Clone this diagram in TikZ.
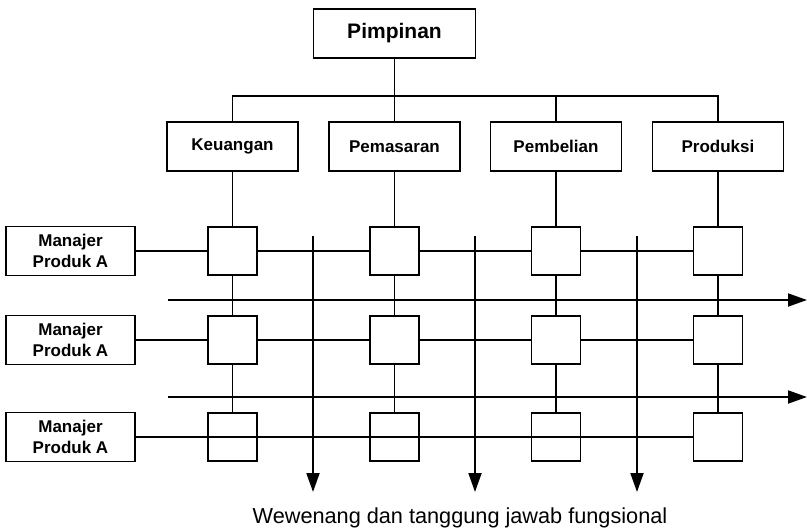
\documentclass[tikz,border=0pt]{standalone}
\usepackage{fontspec}
\setmainfont{Liberation Sans}
\usetikzlibrary{arrows.meta}
\begin{document}
\begin{tikzpicture}[x=1pt,y=-1pt,line width=1.9pt,
  box/.style={draw,fill=white,inner sep=0pt,align=center,minimum height=49pt,
    font=\bfseries\fontsize{17}{21}\selectfont},
  cell/.style={draw,fill=white,inner sep=0pt,minimum width=49pt,minimum height=48pt},
  arr/.style={-{Triangle[length=19pt,width=13pt]}}]
  \useasboundingbox (0,0) rectangle (807,528);
  \node[box,minimum width=162pt,font=\bfseries\fontsize{21}{25}\selectfont] (pim) at (394.5,33.5) {Pimpinan};
  \coordinate (bus) at (394.5,96);
  \foreach \n/\x/\t in {keu/232.5/Keuangan, pem/394.5/Pemasaran, pbl/556/Pembelian, pro/718/Produksi}
    \node[box,minimum width=131pt] (\n) at (\x,146.5) {\t};
  \draw (pim) -- (bus);
  \foreach \n in {keu,pem,pbl,pro}
    \draw (bus) -| (\n.north);
  % manajer produk dan sel matriks
  \foreach \r/\y in {1/251, 2/340, 3/437} {
    \node[box,minimum width=129pt] (m\r) at (70.5,\y) {Manajer\\Produk A};
    \foreach \c/\x in {1/232.5, 2/394.5, 3/556, 4/718}
      \node[cell] (sq\r-\c) at (\x,\y) {};
  }
  \foreach \c/\n in {1/keu, 2/pem, 3/pbl, 4/pro}
    \draw (\n) -- (sq1-\c) (sq1-\c) -- (sq2-\c) (sq2-\c) -- (sq3-\c);
  \foreach \r in {1,2}
    \draw (m\r) -- (sq\r-1) -- (sq\r-2) -- (sq\r-3) -- (sq\r-4);
  \draw (m3.east) -- (sq3-4.west);
  % panah
  \foreach \i/\x in {1/313, 2/475, 3/637} {
    \coordinate (v\i) at (\x,236);
    \coordinate (w\i) at (\x,492);
    \draw[arr] (v\i) -- (w\i);
  }
  \foreach \i/\y in {1/300, 2/397} {
    \coordinate (h\i) at (168,\y);
    \coordinate (k\i) at (807,\y);
    \draw[arr] (h\i) -- (k\i);
  }
  \node[anchor=base,font=\fontsize{21.7}{25}\selectfont] (wtj) at (460,523) {Wewenang dan tanggung jawab fungsional};
\end{tikzpicture}
\end{document}
